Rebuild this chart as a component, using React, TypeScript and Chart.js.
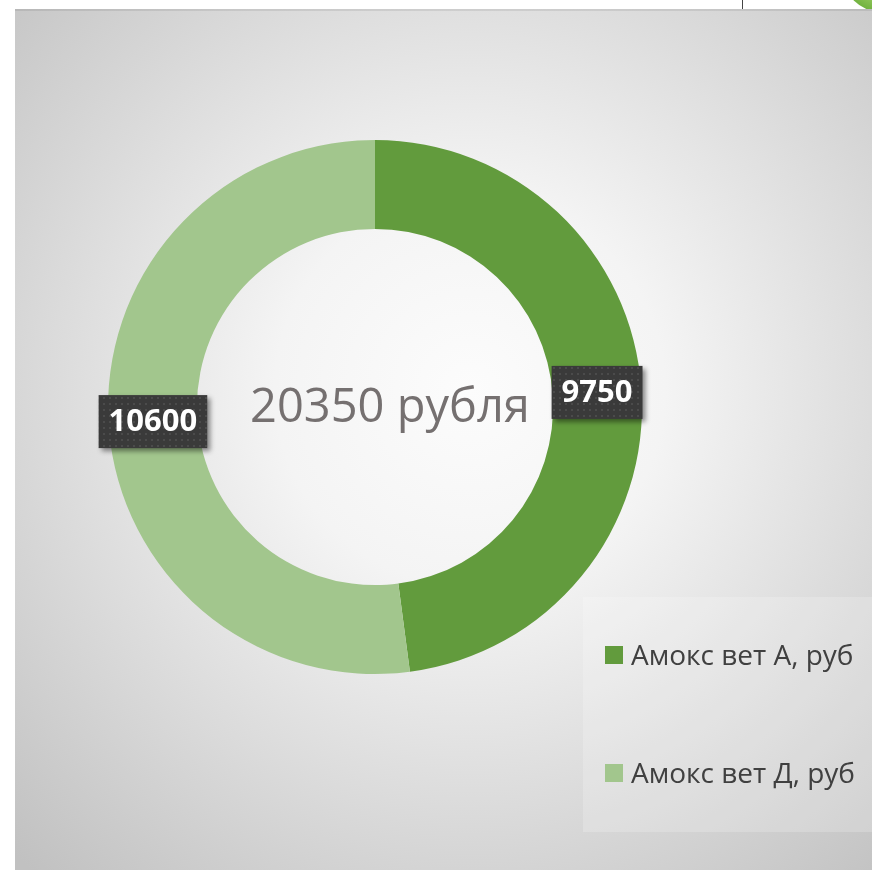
import React, { useEffect, useRef } from "react";
import { Chart, registerables } from "chart.js";

Chart.register(...registerables);

const categories = ["Амокс вет А, руб", "Амокс вет Д, руб"];
const values = [9750, 10600];
const colors = ["#629b3d", "#a2c68d"];
const centerText = "20350 рубля";

const FONT = "'Open Sans', 'Noto Sans', sans-serif";

function makePattern(ctx: CanvasRenderingContext2D) {
  const c = document.createElement("canvas");
  c.width = 6;
  c.height = 6;
  const p = c.getContext("2d")!;
  p.fillStyle = "#3a3a3a";
  p.fillRect(0, 0, 6, 6);
  p.fillStyle = "#4b4b4b";
  p.fillRect(1, 1, 2, 2);
  return ctx.createPattern(c, "repeat");
}

const decorPlugin = {
  id: "decor",
  beforeDraw(chart: any) {
    const ctx = chart.ctx as CanvasRenderingContext2D;
    const W = chart.width;
    const H = chart.height;
    ctx.save();
    ctx.fillStyle = "#ffffff";
    ctx.fillRect(0, 0, W, H);
    // top strip decorations
    ctx.fillStyle = "#444";
    ctx.fillRect(742, 0, 1, 9);
    const gg = ctx.createRadialGradient(878, -22, 4, 878, -22, 34);
    gg.addColorStop(0, "#b6dd7a");
    gg.addColorStop(1, "#6fb13e");
    ctx.fillStyle = gg;
    ctx.beginPath();
    ctx.arc(878, -22, 33, 0, Math.PI * 2);
    ctx.fill();
    // panel background
    const g = ctx.createRadialGradient(470, 390, 0, 470, 390, 650);
    g.addColorStop(0, "#fcfcfc");
    g.addColorStop(0.3, "#f4f4f4");
    g.addColorStop(1, "#c1c1c1");
    ctx.fillStyle = g;
    ctx.fillRect(15, 9, W - 15, H - 10);
    ctx.fillStyle = "rgba(0,0,0,0.08)";
    ctx.fillRect(15, 9, W - 15, 2);
    // legend box
    ctx.fillStyle = "rgba(255,255,255,0.2)";
    ctx.fillRect(583, 597, W - 583, 235);
    ctx.restore();
  },
  afterDatasetsDraw(chart: any) {
    const ctx = chart.ctx as CanvasRenderingContext2D;
    const meta = chart.getDatasetMeta(0);
    const cx = (chart.chartArea.left + chart.chartArea.right) / 2;
    const cy = (chart.chartArea.top + chart.chartArea.bottom) / 2;
    ctx.save();
    // center text
    ctx.font = `47px ${FONT}`;
    ctx.fillStyle = "#757070";
    ctx.textAlign = "center";
    ctx.textBaseline = "alphabetic";
    ctx.fillText(centerText, cx + 15, cy + 15);
    // data labels
    const pat = makePattern(ctx);
    ctx.font = `bold 31px ${FONT}`;
    meta.data.forEach((arc: any, i: number) => {
      const pos = arc.tooltipPosition();
      const txt = String(values[i]);
      const tw = ctx.measureText(txt).width;
      const bw = tw + 20;
      const bh = 53;
      const x = pos.x - bw / 2;
      const y = pos.y - bh / 2;
      ctx.save();
      ctx.shadowColor = "rgba(0,0,0,0.45)";
      ctx.shadowBlur = 5;
      ctx.shadowOffsetX = 3;
      ctx.shadowOffsetY = 3;
      ctx.fillStyle = pat || "#3a3a3a";
      ctx.fillRect(x, y, bw, bh);
      ctx.restore();
      ctx.fillStyle = "#ffffff";
      ctx.textAlign = "center";
      ctx.textBaseline = "middle";
      ctx.fillText(txt, pos.x, pos.y + 1);
    });
    // legend
    ctx.font = `28px ${FONT}`;
    ctx.textAlign = "left";
    ctx.textBaseline = "alphabetic";
    categories.forEach((label, i) => {
      const y = 646 + i * 118;
      ctx.fillStyle = colors[i];
      ctx.fillRect(605, y, 18, 18);
      ctx.fillStyle = "#404040";
      ctx.fillText(label, 631, y + 19);
    });
    ctx.restore();
  },
};

export default function App() {
  const ref = useRef<HTMLCanvasElement | null>(null);
  useEffect(() => {
    document.body.style.margin = "0";
    const chart = new Chart(ref.current!, {
      type: "doughnut",
      data: {
        labels: categories,
        datasets: [
          {
            data: values,
            backgroundColor: colors,
            borderWidth: 0,
          },
        ],
      },
      options: {
        responsive: false,
        animation: false,
        cutout: "66.7%",
        layout: { padding: { left: 108, right: 230, top: 140, bottom: 197 } },
        plugins: {
          legend: { display: false },
          tooltip: { enabled: false },
        },
      },
      plugins: [decorPlugin],
    });
    return () => chart.destroy();
  }, []);
  return (
    <div style={{ width: 872, height: 871, position: "relative" }}>
      <canvas ref={ref} width={872} height={871} style={{ display: "block" }} />
    </div>
  );
}
